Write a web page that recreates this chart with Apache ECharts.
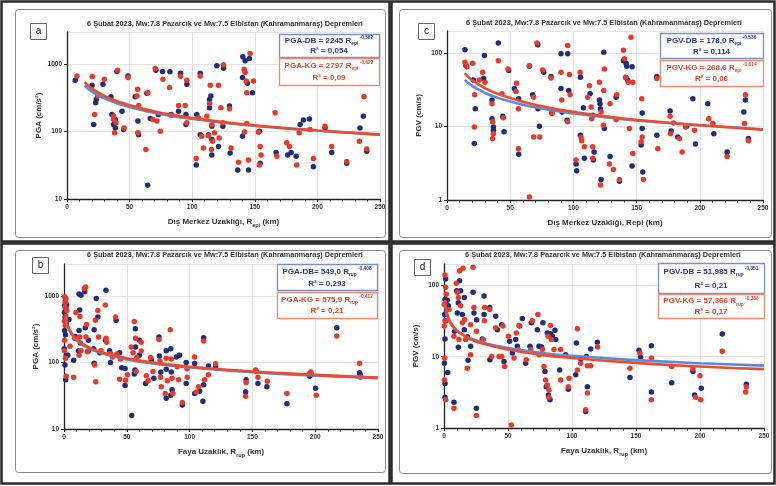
<!DOCTYPE html>
<html><head><meta charset="utf-8">
<script src="https://cdn.jsdelivr.net/npm/echarts@6/dist/echarts.min.js"></script>
<style>html,body{margin:0;padding:0;background:#fff}#c{width:776px;height:486px}</style>
</head><body><div id="c"></div>
<script>
// ---------- DATA ----------
const titleText = '6 Şubat 2023, Mw:7.8 Pazarcık ve Mw:7.5 Elbistan (Kahramanmaraş) Depremleri';
const xTicksKm = [0, 50, 100, 150, 200, 250];

// Panel a: PGA vs R_epi
const aBlue = [[6.6,577],[20,486],[21.3,127],[22.9,268],[23.4,300],[28.7,502],[35.1,329],[35.9,179],[37.2,127],[38.6,113],[38.6,151],[39.9,778],[43.9,201],[45.2,107],[48.7,670],[54.5,329],[57.2,90],[56.6,143],[63.8,369],[64.4,16],[66.5,156],[71,813],[73,179],[76.3,778],[82.2,769],[83.2,179],[89.1,201],[90.7,734],[95,179],[95,127],[95.7,502],[103.7,179],[103.2,32],[106.4,734],[106.4,90],[113,90],[113.8,300],[113.8,225],[114.9,337],[115.7,120],[115.7,76],[115.7,45],[119.7,944],[121,60],[124.5,120],[125,871],[129.8,239],[130.3,48],[136.4,27],[140.2,85],[140.2,632],[140.4,1285],[142.3,1122],[144.1,520],[145,27],[145.7,1216],[148.1,377],[153.7,101],[154.3,34],[167,49],[176.3,45],[179,49],[183,43],[186.2,127],[188.8,148],[193.6,154],[196.8,30],[206.1,113],[211.4,49],[223.4,34],[234,113],[236.7,169],[239.4,51]];
const aRed = [[8,670],[20.2,654],[22.1,179],[24.5,337],[29.8,597],[37.2,169],[37.2,151],[38,96],[39.1,135],[40.4,813],[45.7,113],[48.7,632],[55.9,337],[56.4,423],[57.2,244],[56.6,96],[64.6,377],[63,54],[68.6,151],[70.5,861],[71.8,143],[74.5,101],[76.6,597],[81.9,449],[83.2,173],[89.1,244],[90.7,662],[94.4,244],[95.7,577],[95.7,135],[103.2,40],[105,160],[106.4,670],[107.7,85],[109,57],[111.7,169],[113,87],[113.8,262],[114.4,486],[115.7,127],[116.2,72],[115.4,54],[117.8,96],[121,486],[121.5,80],[122.9,225],[124.5,135],[125,978],[129.8,218],[131.1,57],[137,35],[141.8,99],[141.5,842],[142.3,751],[143.1,564],[143.6,377],[143.6,132],[145,38],[146.3,1442],[148.9,564],[152.9,98],[153.7,32],[155,45],[154.3,60],[166.2,190],[167.6,43],[175.5,68],[177.7,60],[183.5,32],[185.4,96],[194.1,107],[196.8,40],[206.1,120],[211.4,60],[223.4,36],[233.5,72],[237.2,329],[239.4,55]];
const aCurveX = [14, 20, 30, 40, 60, 80, 100, 130, 160, 200, 250];
const aCurveBlue = [483, 392, 310, 262, 207, 175, 154, 132, 117, 103, 90];
const aCurveRed = [542, 434, 337, 282, 219, 183, 159, 135, 119, 104, 90];

// Panel c: PGV vs R_epi
const cBlue = [[14.2,111],[15,68],[20.8,43],[22.4,17.5],[21.6,5.9],[29.6,93],[29,45],[35.6,23],[35.6,12.8],[36.7,9.9],[36.7,8.9],[40.6,137],[44.1,13.8],[45.1,8.5],[48.8,58],[53.3,33],[56.7,24],[56.7,4.2],[65.2,66],[67.8,27],[71.8,130],[72,17.5],[73.1,10.1],[76.5,55],[82.3,48],[82.8,15.3],[90.2,98],[90.2,33],[91,15.8],[95.5,98],[96.3,31],[95,12.2],[102.1,3.1],[102.6,2.5],[105.5,47],[105.5,7.6],[107.9,18.1],[108.7,3.7],[113.2,28],[115.3,14.3],[115.8,3.5],[116.4,4.5],[120.6,23],[121.1,20.5],[121.4,17.5],[121.9,1.9],[124,103],[124.5,9.4],[129,3.9],[133.8,25],[136.4,1.8],[139.6,79],[141.7,73],[142.2,66],[141.7,46],[143,43],[146.4,65],[146.4,2.9],[154.4,15.3],[154.4,9.4],[153.6,5.6],[154.9,2.4],[166,48],[166,7.6],[176.5,16.3],[177.3,8.7],[182.6,7.2],[189.7,10.1],[194.5,24],[196.6,5.8],[206.3,20.5],[211.1,8.0],[221.6,4.5],[234.8,15.8],[236.1,23],[238.5,6.9]];
const cRed = [[14.2,75],[15.8,65],[20.3,73],[21.9,27],[21.6,9.9],[25.6,43],[28.2,55],[30.1,40],[35.6,20.5],[36.1,11.6],[36.7,8.0],[36.1,6.9],[40.6,79],[43.5,28],[44.6,13.2],[48.3,61],[54.6,30],[55.1,39],[56.5,17.5],[56.5,5.0],[65.2,68],[65.2,1.1],[68.6,25],[68.6,7.2],[71.2,137],[73.4,7.2],[75.7,59],[82.3,46],[83.1,15],[90.2,55],[90.8,23],[95.5,127],[96.8,51],[97.4,27],[95.5,11.6],[102.1,3.5],[105.3,55],[106.1,7.1],[106.6,6.4],[108.7,5.3],[111.3,25],[112.7,36],[114.5,12.8],[114,18.5],[115.3,5.3],[115.3,3.7],[120.6,40],[121.4,1.6],[121.9,15.8],[124.5,61],[124,31],[123.7,10.4],[129,20.5],[128.5,3.1],[131.7,2.6],[134.3,27],[133.8,12.4],[136.4,1.9],[139.6,109],[140.4,84],[141.2,47],[143.5,40],[144.3,9.4],[145.6,165],[147,40],[147,4.3],[154.1,24],[154.4,7.2],[153.6,6.2],[155.4,1.9],[166,45],[166.8,5.0],[176.5,13.8],[176.8,8.0],[179.2,11.2],[183.9,6.9],[186,4.5],[188.7,9.9],[195.8,8.9],[207.1,12.8],[210.3,11],[221.6,3.9],[235.4,11],[236.1,27],[238.5,6.4]];
const cCurveX = [14, 20, 30, 40, 60, 80, 100, 130, 160, 200, 250];
const cCurveBlue = [43.3, 35.7, 28.8, 24.6, 19.8, 17.0, 15.1, 13.1, 11.7, 10.4, 9.2];
const cCurveRed = [53.2, 42.7, 33.3, 27.9, 21.8, 18.2, 15.9, 13.5, 11.9, 10.4, 9.05];

// Panel b: PGA vs R_rup
const bBlue = [[0.5,720],[1,820],[0.3,560],[1.5,650],[0.8,480],[2,390],[0.5,300],[1.2,260],[0.2,160],[1.8,128],[0.8,91],[1.3,55],[3,128],[4,440],[2.1,728],[7.7,108],[9,245],[12,1060],[13.5,1020],[12.5,610],[12,300],[13,195],[11.5,150],[16.5,1150],[17,330],[19.5,215],[19.5,150],[24,310],[25.7,912],[24,97],[23.5,160],[27,480],[28.5,140],[33.4,1213],[33,215],[36.3,150],[37,100],[41.5,430],[44.3,140],[46,83],[48.6,81],[48.6,45],[53.9,16],[56.8,320],[57,170],[56.5,77],[56,67],[60,215],[60,128],[65,48],[69.5,110],[71.5,58],[75.6,240],[76,125],[77,71],[81.4,150],[81.4,79],[81.4,29],[85,160],[85.4,72],[86,39],[85,32],[89.4,120],[92,128],[94.2,23],[97.3,100],[97.3,48],[104,96],[104,34],[108,37],[111.2,235],[111.2,46],[110.6,26],[115,88],[120.7,85],[144.6,36],[145,55],[153,73],[154.4,48],[161.5,43],[177.5,24],[195.5,62],[197,65],[200.3,41],[217.2,330],[235.3,70],[235.8,66]];
const bRed = [[0.5,970],[1.5,900],[0.8,680],[2.2,600],[1.5,490],[0.3,420],[1,360],[0.5,215],[0.4,150],[1.2,115],[1.8,62],[4.8,175],[1.3,800],[7.7,60],[8.5,230],[9.5,560],[16.2,1283],[12.7,490],[12.5,240],[13.5,150],[12,128],[17.3,1360],[18,370],[17.5,240],[18.5,145],[25,430],[25.3,51],[24.5,91],[27,600],[27.5,240],[29.5,150],[32.9,728],[33.5,230],[34,200],[37,135],[38.5,120],[41,480],[42,132],[44.9,112],[44.3,56],[49,54],[50.5,65],[53.5,170],[56,410],[57,230],[58,118],[57.5,73],[55,140],[61.5,200],[61.5,148],[65.5,63],[67,53],[69,118],[70.8,73],[75.6,220],[76.4,105],[76.9,60],[77.4,43],[81.4,115],[82.2,53],[80.6,34],[84.6,310],[85.4,112],[86,58],[86.7,34],[90.2,86],[91.3,55],[94.2,25],[97.9,80],[98.1,60],[104,120],[105.3,36],[107.2,43],[111.2,210],[112,55],[115,65],[120.7,95],[144.6,31],[145,50],[152.5,77],[154.4,60],[161.8,52],[177.5,34],[195.5,68],[196.5,72],[200.8,32],[217.2,250],[235.3,97],[236,60]];
const bCurveX = [1.5, 3, 5, 8, 12, 20, 30, 50, 75, 100, 150, 200, 250];
const bCurveBlue = [466, 351, 285, 235, 199, 162, 137, 111, 94, 84, 71, 63, 58];
const bCurveRed = [487, 366, 297, 245, 207, 168, 142, 115, 97, 86, 73, 65, 59];

// Panel d: PGV vs R_rup
const dBlue = [[1.3,123],[0.8,64],[2.6,62],[0.5,39],[1.3,32],[0.8,17.8],[0.3,8.1],[0.8,4.2],[0.8,2.7],[3.4,52],[2.9,6.0],[7.8,2.3],[8.3,22.8],[9.9,84],[10.4,41],[11.2,57],[11.2,13.6],[12.2,116],[13,84],[14.3,39],[15.9,68],[15.9,24],[18.2,19],[18.8,8.9],[20.8,14],[22.7,80],[23.4,41],[25.3,1.9],[25.5,33],[31.3,71],[31.3,39],[29.9,17.8],[35.7,49],[35.9,9.1],[40.4,37],[41.7,24],[45.1,28],[46.9,8.6],[51.3,16.5],[53.4,11.3],[56,17.4],[57.3,14],[59.1,27],[61.2,34.5],[63.8,8.1],[67.2,14],[68.2,30],[72.9,24],[74.2,14],[76.3,13.7],[77.3,30],[78.9,6.2],[79.9,3.8],[81.5,2.9],[82.8,2.5],[83.3,21],[84.6,19.4],[80.7,21.6],[86.7,23.6],[87.2,17.4],[90.4,6.5],[95,10.7],[97.1,3.5],[103.4,15.6],[102.9,5.6],[106.8,9.3],[110.7,1.7],[112,3.8],[111.2,10.1],[114.6,12.8],[119.8,16],[145.3,5.1],[152.3,12.3],[153.6,9.8],[162,14.3],[162,3.2],[177.9,4.3],[194.5,6.2],[195.8,2.9],[201,3.6],[217.4,20.9],[236.2,4.1]];
const dRed = [[0.8,140],[1.3,94],[1.8,75],[0.2,54],[0.8,32],[0.2,27],[0.5,9.6],[0.3,4.7],[1.3,2.5],[3.9,46],[7.8,1.9],[7.8,19.4],[9.6,107],[10.4,80],[11.2,68],[11.7,17.4],[12.2,161],[14.8,174],[13,52],[14.3,30],[16.1,33],[16.9,17.4],[18.2,6.9],[20.8,28],[20.8,10.7],[22.7,180],[23.4,49],[25.3,1.5],[25.3,22.8],[31.8,49],[31.5,32],[30.7,17.4],[35.7,46],[37.2,10.1],[40.4,25.5],[43,10.1],[46.1,27],[47.4,7.3],[45.1,10.1],[50.3,19.4],[52.6,1.1],[54.7,9.6],[56.5,21.6],[58.1,12.6],[58.6,27.5],[64.3,9.1],[67.7,12.6],[69,32],[73.4,39],[74.2,10.7],[76.8,12.6],[78.1,7.3],[79.4,4.7],[80.7,4.0],[82,2.7],[82,3.4],[83.3,27.5],[83.9,17.4],[81.3,19.4],[85.9,12.6],[91.1,12.6],[91.1,4.7],[97.1,3.8],[97.7,5.0],[104.2,24.6],[104.2,6.5],[106.8,8.1],[110.7,1.8],[112,3.1],[112,7.5],[114.6,7.5],[120,13.7],[145.3,6.9],[153.1,11.3],[162,9.6],[162,2.5],[177.9,7.3],[194.5,6.8],[196.6,2.7],[200,5.4],[200.5,2.5],[217.4,11.9],[235.7,3.2],[236.2,3.8]];
const dCurveX = [0.8, 1.5, 2, 3, 5, 8, 12, 20, 30, 50, 75, 100, 150, 200, 250];
const dCurveBlue = [56.2, 45, 40.8, 35.3, 29.5, 25.1, 21.7, 18.2, 15.8, 13.2, 11.4, 10.3, 8.95, 8.1, 7.5];
const dCurveRed = [62.6, 49, 43.8, 37.5, 30.7, 25.6, 21.9, 17.9, 15.3, 12.6, 10.7, 9.6, 8.2, 7.3, 6.7];

// Annotation texts
const eqA = [['PGA-DB = 2245 R', 'epi', '-0,582', 'R² = 0,054'], ['PGA-KG = 2797 R', 'epi', '-0,622', 'R² = 0,09']];
const eqC = [['PGV-DB = 178,0 R', 'epi', '-0,536', 'R² = 0,114'], ['PGV-KG = 268,6 R', 'epi', '-0,614', 'R² = 0,06']];
const eqB = [['PGA-DB= 549,0 R', 'rup', '-0,408', 'R² = 0,293'], ['PGA-KG = 575,9 R', 'rup', '-0,412', 'R² = 0,21']];
const eqD = [['PGV-DB = 51,985 R', 'rup', '-0,351', 'R² = 0,21'], ['PGV-KG = 57,366 R', 'rup', '-0,388', 'R² = 0,17']];

// ---------- STYLE / LAYOUT ----------
const FF = 'Liberation Sans, Arial, sans-serif';
const BLUE_PT = '#1f2d7c', RED_PT = '#e8392b', BLUE_LN = '#5b8ad8', RED_LN = '#ef4a2c';
const BLUE_TX = '#2c3b8e', RED_TX = '#e8452c';

const grids = [
  {left: 67, top: 32, width: 313, height: 167},   // a
  {left: 447, top: 31, width: 316, height: 169},  // c
  {left: 64, top: 264, width: 314, height: 165},  // b
  {left: 444, top: 264, width: 320, height: 164}  // d
];
const yRanges = [[10, 3000], [1, 200], [10, 3000], [1, 200]];
const yNames = ['PGA (cm/s²)', 'PGV (cm/s)', 'PGA (cm/s²)', 'PGV (cm/s)'];
const xNames = [
  '{n|Dış Merkez Uzaklığı, R}{s|epi}{n| (km)}',
  '{n|Dış Merkez Uzaklığı, Repi (km)}',
  '{n|Faya Uzaklık, R}{s|rup}{n| (km)}',
  '{n|Faya Uzaklık, R}{s|rup}{n| (km)}'
];

const xAxes = grids.map((g, i) => ({
  type: 'value', gridIndex: i, min: xTicksKm[0], max: xTicksKm[xTicksKm.length - 1], interval: 50,
  axisLine: {lineStyle: {color: '#222', width: 1.3}},
  axisTick: {show: true, length: 3, lineStyle: {color: '#222'}},
  minorTick: {show: true, splitNumber: 5, length: 2.5, lineStyle: {color: '#333'}},
  splitLine: {show: true, lineStyle: {color: '#e4e4e4', width: 1}},
  axisLabel: {fontSize: 6.5, fontWeight: 'bold', color: '#333', fontFamily: FF, margin: 5},
  name: xNames[i], nameLocation: 'middle', nameGap: 17,
  nameTextStyle: {rich: {n: {fontSize: 8, fontWeight: 'bold', color: '#333', fontFamily: FF, lineHeight: 12},
                         s: {fontSize: 5.5, fontWeight: 'bold', color: '#333', fontFamily: FF, verticalAlign: 'bottom'}}}
}));
const yAxes = grids.map((g, i) => ({
  type: 'log', logBase: 10, gridIndex: i, min: yRanges[i][0], max: yRanges[i][1],
  axisLine: {show: true, lineStyle: {color: '#222', width: 1.3}},
  axisTick: {show: true, length: 3, lineStyle: {color: '#222'}},
  splitLine: {show: true, lineStyle: {color: '#e4e4e4', width: 1}},
  axisLabel: {fontSize: 6.5, fontWeight: 'bold', color: '#333', fontFamily: FF, margin: 5, showMaxLabel: false,
              formatter: v => String(Math.round(v))},
  name: yNames[i], nameLocation: 'middle', nameGap: 24,
  nameTextStyle: {fontSize: 8, fontWeight: 'bold', color: '#333', fontFamily: FF}
}));

function scat(data, color, gi) {
  return {type: 'scatter', xAxisIndex: gi, yAxisIndex: gi, data: data, symbolSize: 5.5,
          itemStyle: {color: color, opacity: 1}, z: 3, silent: true};
}
function curve(xs, ys, color, gi, w) {
  return {type: 'line', xAxisIndex: gi, yAxisIndex: gi, data: xs.map((x, k) => [x, ys[k]]),
          smooth: true, symbol: 'none', lineStyle: {color: color, width: w}, z: 5, silent: true};
}

const series = [
  scat(aBlue, BLUE_PT, 0), scat(aRed, RED_PT, 0),
  curve(aCurveX, aCurveBlue, BLUE_LN, 0, 2.6), curve(aCurveX, aCurveRed, RED_LN, 0, 2.6),
  scat(cBlue, BLUE_PT, 1), scat(cRed, RED_PT, 1),
  curve(cCurveX, cCurveBlue, BLUE_LN, 1, 2.6), curve(cCurveX, cCurveRed, RED_LN, 1, 2.6),
  scat(bBlue, BLUE_PT, 2), scat(bRed, RED_PT, 2),
  curve(bCurveX, bCurveBlue, BLUE_LN, 2, 2.6), curve(bCurveX, bCurveRed, RED_LN, 2, 2.6),
  scat(dBlue, BLUE_PT, 3), scat(dRed, RED_PT, 3),
  curve(dCurveX, dCurveBlue, BLUE_LN, 3, 2.6), curve(dCurveX, dCurveRed, RED_LN, 3, 2.6)
];

// ---------- GRAPHIC (frames, titles, labels, equation boxes) ----------
const graphic = [];
function rect(x, y, w, h, stroke, lw, r, fill) {
  graphic.push({type: 'rect', shape: {x: x, y: y, width: w, height: h, r: r || 0},
    style: {fill: fill || 'none', stroke: stroke, lineWidth: lw}, z: 1, silent: true});
}
function txt(x, y, text, opts) {
  graphic.push({type: 'text', x: x, y: y, silent: true, z: 10,
    style: Object.assign({text: text, align: 'center', verticalAlign: 'middle', fill: '#333',
      fontFamily: FF, fontWeight: 'bold', fontSize: 6.5}, opts || {})});
}
// outer dark boxes
rect(1.5, 1.5, 388, 240, '#2b2b2b', 2.5);
rect(391.5, 1.5, 383, 240, '#2b2b2b', 2.5);
rect(1.5, 243.5, 388, 240, '#2b2b2b', 2.5);
rect(391.5, 243.5, 383, 240, '#2b2b2b', 2.5);
// inner gray frames
rect(15.5, 9.5, 370, 228, '#8a8a8a', 1, 3);
rect(399.5, 9.5, 372, 228, '#8a8a8a', 1, 3);
rect(15.5, 250.5, 370, 222, '#8a8a8a', 1, 3);
rect(399.5, 250.5, 372, 223, '#8a8a8a', 1, 3);
// titles
txt(225, 24, titleText, {fontSize: 7.3});
txt(604, 23, titleText, {fontSize: 7.3});
txt(225, 255, titleText, {fontSize: 7.3});
txt(603, 255, titleText, {fontSize: 7.3});
// panel letters
const letters = [['a', 30, 23], ['c', 418, 23], ['b', 32, 257], ['d', 414, 259]];
letters.forEach(l => {
  rect(l[1] + 0.5, l[2] + 0.5, 16, 16, '#666', 1, 0, '#fff');
  txt(l[1] + 8.5, l[2] + 8.5, l[0], {fontSize: 10, fontWeight: 'normal', fill: '#222'});
});
// equation boxes
function eqBox(eq, x, yb, wb, hb, yr, hr) {
  rect(x + 0.5, yb + 0.5, wb, hb, '#7c8fc6', 1.3, 0, '#fff');
  rect(x + 0.5, yr + 0.5, wb, hr, '#f08a70', 1.3, 0, '#fff');
  const mk = (e, col) => ({
    text: '{m|' + e[0] + '}{s|' + e[1] + '}{p| ' + e[2] + '}',
    rich: {m: {fontSize: 8, fontWeight: 'bold', fill: col, fontFamily: FF, lineHeight: 11},
           s: {fontSize: 4.8, fontWeight: 'bold', fill: col, fontFamily: FF, verticalAlign: 'bottom'},
           p: {fontSize: 4.8, fontWeight: 'bold', fill: col, fontFamily: FF, verticalAlign: 'top'}}
  });
  const cx = x + wb / 2;
  const b = mk(eq[0], BLUE_TX), r = mk(eq[1], RED_TX);
  txt(cx, yb + hb * 0.3, b.text, {rich: b.rich, fill: BLUE_TX});
  txt(cx, yb + hb * 0.75, eq[0][3], {fontSize: 8, fill: BLUE_TX});
  txt(cx, yr + hr * 0.3, r.text, {rich: r.rich, fill: RED_TX});
  txt(cx, yr + hr * 0.73, eq[1][3], {fontSize: 8, fill: RED_TX});
}
eqBox(eqA, 279, 34, 100, 23, 58, 27);
eqBox(eqC, 660, 33, 103, 25, 60, 26);
eqBox(eqB, 277, 264, 100, 26, 292, 26);
eqBox(eqD, 658, 263, 106, 30, 294, 24);

const chart = echarts.init(document.getElementById('c'), null, {renderer: 'canvas'});
chart.setOption({
  animation: false,
  backgroundColor: '#fff',
  grid: grids,
  xAxis: xAxes,
  yAxis: yAxes,
  series: series,
  graphic: graphic
});
</script>
</body></html>
